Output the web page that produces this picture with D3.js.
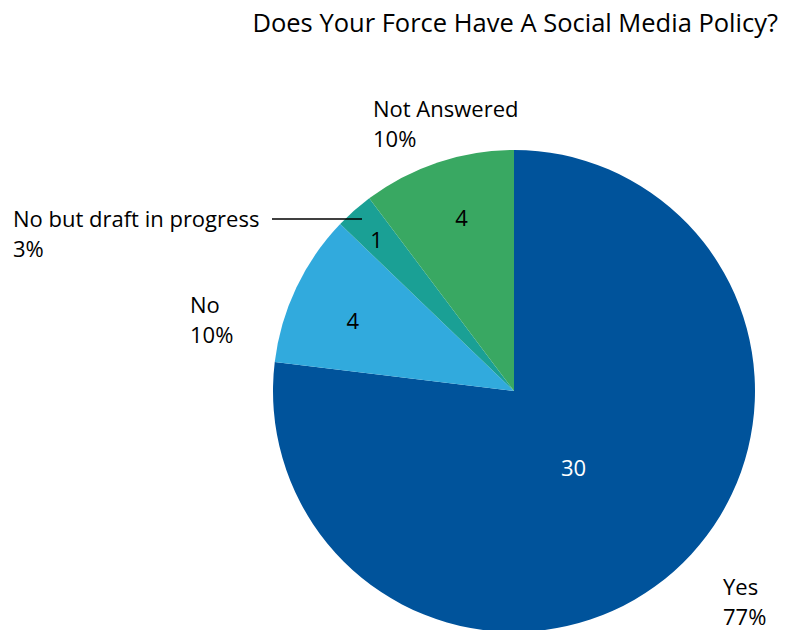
<!DOCTYPE html>
<html>
<head>
<meta charset="utf-8">
<script src="https://cdn.jsdelivr.net/npm/d3@7"></script>
<style>
  html, body { margin: 0; padding: 0; background: #fff; }
  svg text { font-family: "Open Sans", Lato, sans-serif; fill: #000; }
</style>
</head>
<body>
<svg id="chart" width="793" height="630"></svg>
<script>
// Survey answers, in clockwise order from 12 o'clock
const categories = ["Yes", "No", "No but draft in progress", "Not Answered"];
const counts = [30, 4, 1, 4];
const percentLabels = ["77%", "10%", "3%", "10%"];
const sliceColors = ["#00539b", "#31aadd", "#1aa095", "#39a862"];
const title = "Does Your Force Have A Social Media Policy?";

const svg = d3.select("#chart");
const cx = 514, cy = 391, R = 241;

svg.append("text")
  .attr("x", 778).attr("y", 32)
  .attr("text-anchor", "end")
  .style("font-size", "25.5px")
  .text(title);

const pie = d3.pie().value(d => d).sort(null);
const arcs = pie(counts);
const arc = d3.arc().innerRadius(0).outerRadius(R);

const g = svg.append("g").attr("transform", `translate(${cx},${cy})`);

g.selectAll("path.slice")
  .data(arcs)
  .join("path")
  .attr("class", "slice")
  .attr("d", arc)
  .attr("fill", (d, i) => sliceColors[i]);

// value labels inside the slices; the big slice gets its label nearer the centre
const labelRadius = [0.40, 0.73, 0.85, 0.755];
const labelTurn = [0.06, -0.03, -0.01, 0.03];
const labelPos = (d, i) => {
  const a = (d.startAngle + d.endAngle) / 2 + labelTurn[i];
  const r = R * labelRadius[i];
  return [Math.sin(a) * r, -Math.cos(a) * r];
};
g.selectAll("text.value")
  .data(arcs)
  .join("text")
  .attr("class", "value")
  .attr("x", (d, i) => labelPos(d, i)[0])
  .attr("y", (d, i) => labelPos(d, i)[1])
  .attr("text-anchor", "middle")
  .attr("dominant-baseline", "central")
  .style("font-size", "22px")
  .style("fill", (d, i) => i === 0 ? "#fff" : "#000")
  .text((d, i) => counts[i]);

// outside category / percentage labels
const outer = [
  { x: 723, y: 595 },
  { x: 190, y: 313 },
  { x: 13, y: 227 },
  { x: 373, y: 117 }
];
outer.forEach((p, i) => {
  const t = svg.append("text")
    .attr("x", p.x).attr("y", p.y)
    .style("font-size", "22px");
  t.append("tspan").attr("x", p.x).text(categories[i]);
  t.append("tspan").attr("x", p.x).attr("dy", 30).text(percentLabels[i]);
});

// leader line to the thin slice
svg.append("line")
  .attr("x1", 272).attr("y1", 219)
  .attr("x2", 362).attr("y2", 219)
  .attr("stroke", "#000").attr("stroke-width", 1.5);
</script>
</body>
</html>
